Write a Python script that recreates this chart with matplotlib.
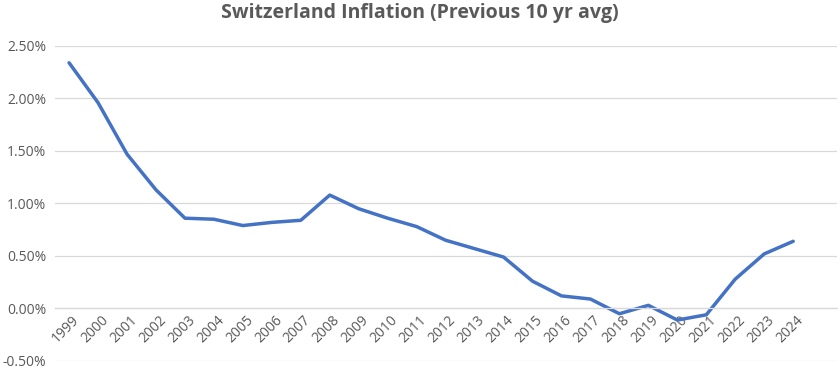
import matplotlib.pyplot as plt
import matplotlib.ticker as mticker
import matplotlib.transforms as mtrans

years = [str(y) for y in range(1999, 2025)]
# previous 10-year average inflation, in %
infl = [2.34, 1.96, 1.47, 1.13, 0.86, 0.85, 0.79, 0.82, 0.84, 1.08,
        0.95, 0.86, 0.78, 0.65, 0.57, 0.49, 0.26, 0.12, 0.09, -0.05,
        0.03, -0.11, -0.06, 0.28, 0.52, 0.64]

grey = '#595959'
plt.rcParams['font.family'] = ['Open Sans', 'DejaVu Sans']

fig = plt.figure(figsize=(8.4, 3.8), dpi=100)
ax = fig.add_axes([0.065, 0.05, 0.931, 0.829])

x = list(range(len(years)))
ax.plot(x, infl, color='#4472C4', lw=2.5, solid_capstyle='round', solid_joinstyle='round')

ax.set_ylim(-0.5, 2.5)
ax.set_xlim(-0.5, len(years) + 0.5)
ax.yaxis.set_major_locator(mticker.MultipleLocator(0.5))
ax.yaxis.set_major_formatter(mticker.FuncFormatter(lambda v, p: f'{v:.2f}%'))
ax.grid(axis='y', color='#d9d9d9', lw=0.9)
ax.set_axisbelow(True)

for s in ['top', 'right', 'left']:
    ax.spines[s].set_visible(False)
ax.spines['bottom'].set_position(('data', 0))
ax.spines['bottom'].set_color('#d9d9d9')
ax.spines['bottom'].set_linewidth(0.9)

ax.set_xticks(x)
ax.set_xticklabels(years, rotation=45, ha='right', rotation_mode='anchor')
ax.tick_params(axis='x', length=0, pad=3, labelsize=10, colors=grey)
ax.tick_params(axis='y', length=0, pad=6, labelsize=10, colors=grey)
shift = mtrans.ScaledTranslation(2 / 72, 0, fig.dpi_scale_trans)
for lab in ax.get_xticklabels():
    lab.set_transform(lab.get_transform() + shift)

fig.text(0.5, 0.965, 'Switzerland Inflation (Previous 10 yr avg)', ha='center', va='center',
         fontsize=14, fontweight='bold', color=grey)

fig.savefig('out.png', dpi=100)
